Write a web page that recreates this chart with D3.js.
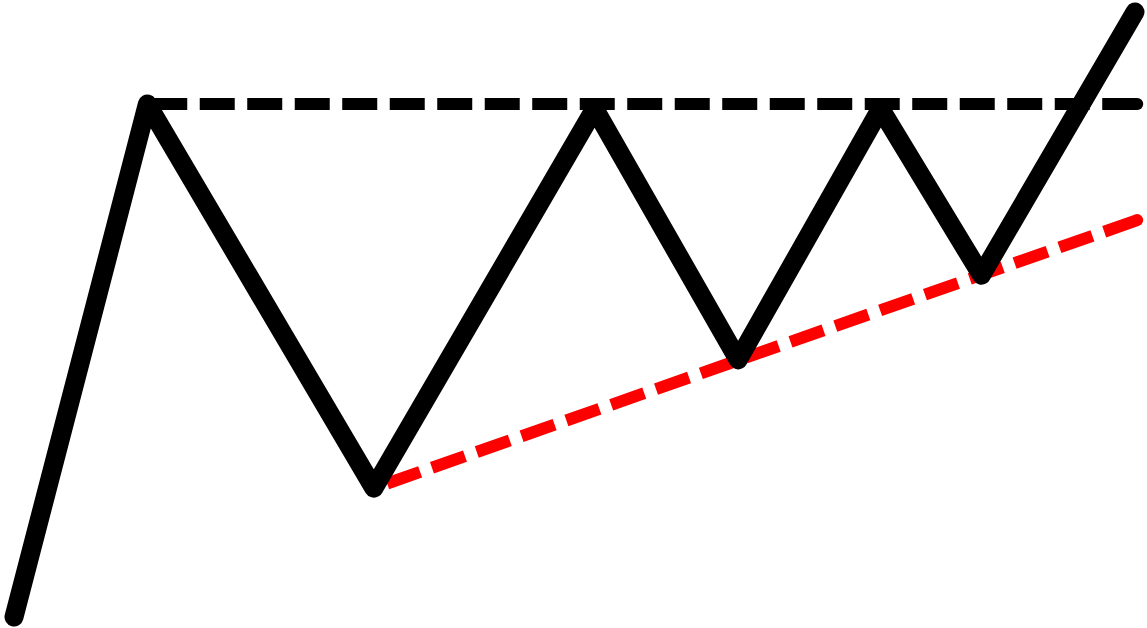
<!DOCTYPE html>
<html>
<head>
<meta charset="utf-8">
<script src="https://cdn.jsdelivr.net/npm/d3@7"></script>
<style>
  html, body { margin: 0; padding: 0; background: #fff; overflow: hidden; }
</style>
</head>
<body>
<svg id="chart" width="1147" height="628"></svg>
<script>
// price path of the ascending triangle (time 0..100, price 0..100)
var times  = [0, 11.9, 32.1, 51.8, 64.6, 77.3, 86.3, 100];
var prices = [0, 84.8, 21.3, 84.0, 42.5, 84.0, 56.5, 100];

// flat resistance across the highs
var resistanceTimes  = [11.9, 100.2];
var resistancePrices = [84.8, 84.8];

// rising support through the lows
var supportTimes  = [32.1, 100.2];
var supportPrices = [21.3, 65.6];

var svg = d3.select('#chart');
var x = d3.scaleLinear().domain([0, 100]).range([14, 1135]);
var y = d3.scaleLinear().domain([0, 100]).range([617, 12]);

var line = d3.line()
    .x(function(d) { return x(d[0]); })
    .y(function(d) { return y(d[1]); });

var zip = function(a, b) { return a.map(function(v, i) { return [v, b[i]]; }); };

var dash = 35, gap = 12.5;

// dashed trend line, pattern lined up so a dash finishes at the right end
var drawDashed = function(pts, color) {
    var p = svg.append('path')
        .datum(pts)
        .attr('d', line)
        .attr('fill', 'none')
        .attr('stroke', color)
        .attr('stroke-width', 12)
        .attr('stroke-dasharray', dash + ',' + gap);
    var len = p.node().getTotalLength();
    var period = dash + gap;
    var off = ((dash - len % period) % period + period) % period;
    p.attr('stroke-dashoffset', off);
    var last = pts[pts.length - 1];
    svg.append('circle')
        .attr('cx', x(last[0]))
        .attr('cy', y(last[1]))
        .attr('r', 6)
        .attr('fill', color);
};

drawDashed(zip(supportTimes, supportPrices), '#ff0000');

svg.append('path')
    .datum(zip(times, prices))
    .attr('d', line)
    .attr('fill', 'none')
    .attr('stroke', '#000')
    .attr('stroke-width', 19)
    .attr('stroke-linecap', 'round')
    .attr('stroke-linejoin', 'round');

drawDashed(zip(resistanceTimes, resistancePrices), '#000');
</script>
</body>
</html>
